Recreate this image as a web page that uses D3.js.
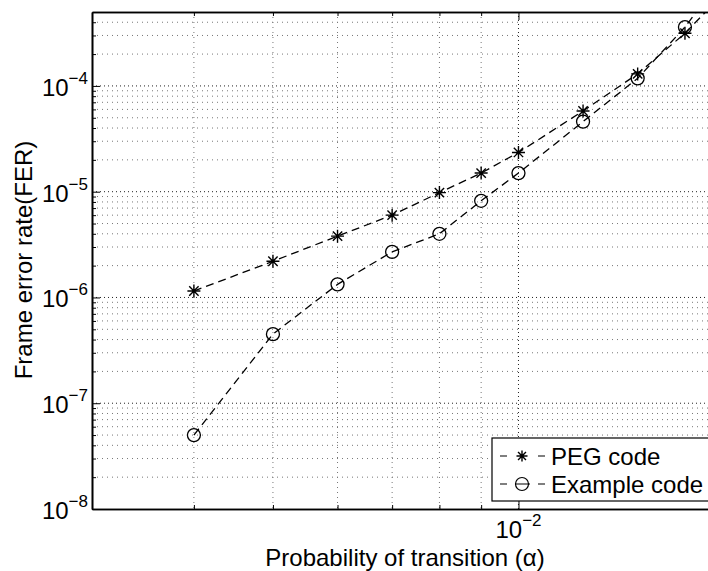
<!DOCTYPE html>
<html>
<head>
<meta charset="utf-8">
<script src="https://cdn.jsdelivr.net/npm/d3@7"></script>
<style>
  body { margin: 0; background: #fff; }
  svg { display: block; font-family: "Liberation Sans", Arial, sans-serif; }
</style>
</head>
<body>
<div id="chart"></div>
<script>
// data
const alpha = [0.004, 0.005, 0.006, 0.007, 0.008, 0.009, 0.01, 0.012, 0.014, 0.016, 0.018]
const pegFer = [1.15e-6, 2.2e-6, 3.8e-6, 6.0e-6, 9.8e-6, 1.5e-5, 2.35e-5, 5.8e-5, 1.3e-4, 3.15e-4, 8.0e-4]
const exampleFer = [5.0e-8, 4.5e-7, 1.33e-6, 2.7e-6, 4.0e-6, 8.2e-6, 1.5e-5, 4.6e-5, 1.18e-4, 3.6e-4, 1.2e-3]
const xMajorTicks = [0.01]
const yMajorTicks = [1e-8, 1e-7, 1e-6, 1e-5, 1e-4]
const seriesNames = ["PEG code", "Example code"]

// dimensions (plot box runs past the right edge of the picture)
const margin = { top: 12, left: 92 }
const plotRight = 764
const plotBottom = 509
const W = 708, H = 571

const svg = d3.select("#chart").append("svg")
  .attr("width", W)
  .attr("height", H)

const xScale = d3.scaleLog().domain([0.003, 0.02]).range([margin.left, plotRight])
const yScale = d3.scaleLog().domain([1e-8, 5e-4]).range([plotBottom, margin.top])

// minor positions for log axes
const xMinor = []
for (let e = -3; e <= -2; e++) for (let m = 2; m <= 9; m++) {
  const v = m * Math.pow(10, e)
  if (v > 0.003 && v < 0.02) xMinor.push(v)
}
const yMinor = []
for (let e = -8; e <= -4; e++) for (let m = 2; m <= 9; m++) {
  const v = m * Math.pow(10, e)
  if (v > 1e-8 && v < 5e-4) yMinor.push(v)
}

svg.append("defs").append("clipPath").attr("id", "clip")
  .append("rect")
  .attr("x", margin.left).attr("y", margin.top)
  .attr("width", plotRight - margin.left).attr("height", plotBottom - margin.top)

// grid
const grid = svg.append("g")
grid.selectAll(".gy").data(yMinor.concat(yMajorTicks.slice(1))).enter().append("line")
  .attr("x1", margin.left).attr("x2", plotRight)
  .attr("y1", d => yScale(d)).attr("y2", d => yScale(d))
  .attr("stroke", d => yMajorTicks.includes(d) ? "#222" : "#777")
  .attr("stroke-width", 1)
  .attr("stroke-dasharray", d => yMajorTicks.includes(d) ? "1,3" : "1,4")
grid.selectAll(".gx").data(xMinor.concat(xMajorTicks)).enter().append("line")
  .attr("y1", margin.top).attr("y2", plotBottom)
  .attr("x1", d => xScale(d)).attr("x2", d => xScale(d))
  .attr("stroke", d => xMajorTicks.includes(d) ? "#222" : "#777")
  .attr("stroke-width", 1)
  .attr("stroke-dasharray", d => xMajorTicks.includes(d) ? "1,3" : "1,4")

// axes, ticks inside
const xAxisB = d3.axisBottom(xScale).tickValues(xMajorTicks).tickSizeInner(-8).tickSizeOuter(0).tickFormat("")
const xAxisBm = d3.axisBottom(xScale).tickValues(xMinor).tickSizeInner(-4).tickSizeOuter(0).tickFormat("")
const xAxisT = d3.axisTop(xScale).tickValues(xMajorTicks).tickSizeInner(-8).tickSizeOuter(0).tickFormat("")
const xAxisTm = d3.axisTop(xScale).tickValues(xMinor).tickSizeInner(-4).tickSizeOuter(0).tickFormat("")
const yAxisL = d3.axisLeft(yScale).tickValues(yMajorTicks).tickSizeInner(-8).tickSizeOuter(0).tickFormat("")
const yAxisLm = d3.axisLeft(yScale).tickValues(yMinor).tickSizeInner(-4).tickSizeOuter(0).tickFormat("")

const axes = svg.append("g").attr("class", "axes")
axes.append("g").attr("transform", `translate(0,${plotBottom})`).call(xAxisB)
axes.append("g").attr("transform", `translate(0,${plotBottom})`).call(xAxisBm)
axes.append("g").attr("transform", `translate(0,${margin.top})`).call(xAxisT)
axes.append("g").attr("transform", `translate(0,${margin.top})`).call(xAxisTm)
axes.append("g").attr("transform", `translate(${margin.left},0)`).call(yAxisL)
axes.append("g").attr("transform", `translate(${margin.left},0)`).call(yAxisLm)
axes.selectAll("path.domain").attr("stroke", "#000").attr("stroke-width", 1.6)
axes.selectAll(".tick line").attr("stroke", "#000").attr("stroke-width", 1)

// tick labels 10^k
const fmtExp = d => "\u2212" + Math.round(-Math.log10(d))
xMajorTicks.forEach(d => {
  const t = svg.append("text")
    .attr("x", xScale(d)).attr("y", 538)
    .attr("text-anchor", "middle")
    .attr("font-size", 24)
  t.append("tspan").text("10")
  t.append("tspan").attr("dy", -12).attr("font-size", 17).text(fmtExp(d))
})
yMajorTicks.forEach(d => {
  const t = svg.append("text")
    .attr("x", 88).attr("y", yScale(d) + 10)
    .attr("text-anchor", "end")
    .attr("font-size", 24)
  t.append("tspan").text("10")
  t.append("tspan").attr("dy", -12).attr("font-size", 17).text(fmtExp(d))
})

// axis titles
svg.append("text")
  .attr("x", 405).attr("y", 566)
  .attr("text-anchor", "middle")
  .attr("font-size", 24)
  .text("Probability of transition (\u03b1)")
svg.append("text")
  .attr("transform", "translate(32,260) rotate(-90)")
  .attr("text-anchor", "middle")
  .attr("font-size", 24)
  .text("Frame error rate(FER)")

// star marker path
const starPath = s => `M${-s},0L${s},0M0,${-s}L0,${s}M${-s * 0.72},${-s * 0.72}L${s * 0.72},${s * 0.72}M${-s * 0.72},${s * 0.72}L${s * 0.72},${-s * 0.72}`

const line = d3.line()
  .x(d => xScale(d[0]))
  .y(d => yScale(d[1]))

const plot = svg.append("g").attr("clip-path", "url(#clip)")
const series = [pegFer, exampleFer]
series.forEach((vals, i) => {
  const pts = alpha.map((a, j) => [a, vals[j]])
  plot.append("path")
    .datum(pts)
    .attr("d", line)
    .attr("fill", "none")
    .attr("stroke", "#000")
    .attr("stroke-width", 1.3)
    .attr("stroke-dasharray", "8,5")
  if (i === 0) {
    plot.selectAll(".star").data(pts).enter().append("path")
      .attr("transform", d => `translate(${xScale(d[0])},${yScale(d[1])})`)
      .attr("d", starPath(6.5))
      .attr("stroke", "#000").attr("stroke-width", 1.4).attr("fill", "none")
  } else {
    plot.selectAll(".circ").data(pts).enter().append("circle")
      .attr("cx", d => xScale(d[0]))
      .attr("cy", d => yScale(d[1]))
      .attr("r", 6.5)
      .attr("stroke", "#000").attr("stroke-width", 1.3).attr("fill", "none")
  }
})

// legend
const legend = svg.append("g")
legend.append("rect")
  .attr("x", 492).attr("y", 438)
  .attr("width", 260).attr("height", 63)
  .attr("fill", "#fff").attr("stroke", "#000").attr("stroke-width", 1.2)
seriesNames.forEach((name, i) => {
  const cy = 456 + i * 28
  legend.append("line")
    .attr("x1", 500).attr("x2", 545).attr("y1", cy).attr("y2", cy)
    .attr("stroke", "#000").attr("stroke-width", 1.2)
    .attr("stroke-dasharray", i === 0 ? "7,31,7" : "7,8,15,8,7")
  if (i === 0) {
    legend.append("path")
      .attr("transform", `translate(522,${cy})`)
      .attr("d", starPath(5.5))
      .attr("stroke", "#000").attr("stroke-width", 1.4).attr("fill", "none")
  } else {
    legend.append("circle")
      .attr("cx", 522).attr("cy", cy).attr("r", 6.5)
      .attr("stroke", "#000").attr("stroke-width", 1.2).attr("fill", "none")
  }
  legend.append("text")
    .attr("x", 551).attr("y", cy + 9)
    .attr("font-size", 24)
    .text(name)
})
</script>
</body>
</html>
